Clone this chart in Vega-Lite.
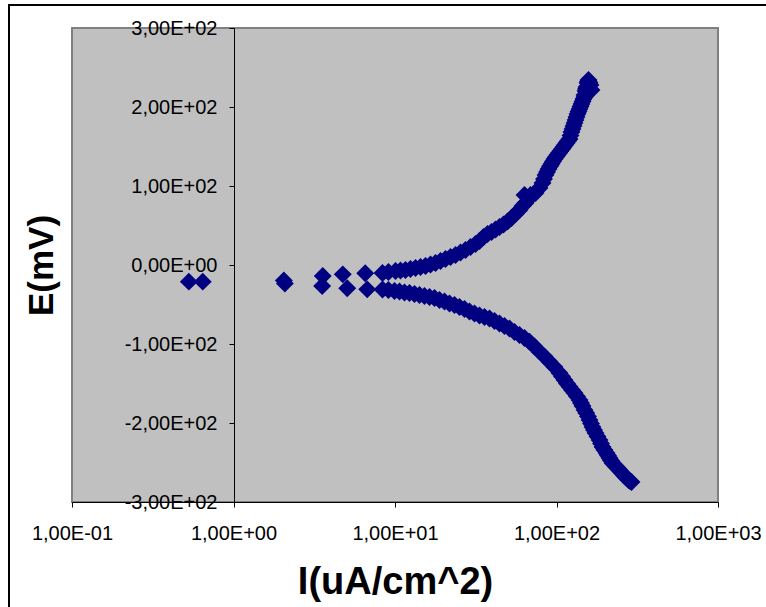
{
  "$schema": "https://vega.github.io/schema/vega-lite/v6.json",
  "autosize": {"type": "none"},
  "padding": {"left": 9, "top": 5, "right": 0, "bottom": 0},
  "width": 765,
  "height": 610,
  "background": "white",
  "config": {
    "view": {"stroke": "#000000", "strokeWidth": 2, "fill": "white"},
    "axis": {
      "grid": false,
      "domainColor": "#000000",
      "domainWidth": 1,
      "tickColor": "#000000",
      "tickWidth": 1,
      "tickSize": 5,
      "labelFont": "Liberation Sans",
      "labelFontSize": 20,
      "labelColor": "#000000",
      "labelOverlap": false,
      "labelFlush": false,
      "labelBound": false,
      "titleFont": "Liberation Sans",
      "titleFontWeight": "bold",
      "titleColor": "#000000"
    }
  },
  "datasets": {
    "plotarea": [{"I": 0.1, "I2": 1000, "E": -300, "E2": 300}],
    "pts": [
      {"I": 0.529, "E": -21.1}, {"I": 0.645, "E": -21.1},
      {"I": 2.05, "E": -19.6}, {"I": 2.08, "E": -23.4},
      {"I": 3.57, "E": -13.9}, {"I": 3.54, "E": -26.6},
      {"I": 4.75, "E": -11.8}, {"I": 5.06, "E": -29.5},
      {"I": 6.54, "E": -10.5}, {"I": 6.73, "E": -30.8},
      {"I": 8.37, "E": -10.1}, {"I": 9.11, "E": -8.9}, {"I": 10.07, "E": -7.6}, {"I": 10.82, "E": -7.0},
      {"I": 11.61, "E": -6.3}, {"I": 12.47, "E": -5.1}, {"I": 13.4, "E": -3.8}, {"I": 14.39, "E": -2.5},
      {"I": 15.45, "E": -1.3}, {"I": 16.59, "E": 0.6}, {"I": 17.82, "E": 2.5}, {"I": 19.13, "E": 5.1},
      {"I": 20.54, "E": 7.6}, {"I": 22.07, "E": 10.1}, {"I": 23.7, "E": 12.7}, {"I": 25.44, "E": 15.8},
      {"I": 27.32, "E": 19.0}, {"I": 29.35, "E": 22.8}, {"I": 31.51, "E": 26.6}, {"I": 33.37, "E": 30.4},
      {"I": 35.32, "E": 35.4}, {"I": 37.4, "E": 39.2}, {"I": 39.58, "E": 41.8}, {"I": 41.91, "E": 44.9},
      {"I": 44.37, "E": 48.1}, {"I": 46.97, "E": 51.3}, {"I": 49.73, "E": 55.1}, {"I": 52.65, "E": 59.5},
      {"I": 55.72, "E": 64.6}, {"I": 59.01, "E": 69.6}, {"I": 61.59, "E": 74.7}, {"I": 64.27, "E": 78.5},
      {"I": 67.09, "E": 83.5}, {"I": 63.38, "E": 88.6}, {"I": 69.02, "E": 88.6}, {"I": 74.13, "E": 91.1},
      {"I": 78.47, "E": 97.5}, {"I": 81.9, "E": 103.8}, {"I": 83.7, "E": 108.9}, {"I": 85.5, "E": 113.9},
      {"I": 87.4, "E": 117.7}, {"I": 89.23, "E": 121.5}, {"I": 91.2, "E": 124.9},
      {"I": 93.11, "E": 127.8}, {"I": 95.1, "E": 131.0}, {"I": 97.18, "E": 134.2}, {"I": 99.3, "E": 136.7},
      {"I": 101.4, "E": 139.2}, {"I": 103.6, "E": 141.8}, {"I": 105.9, "E": 144.3}, {"I": 108.2, "E": 146.8},
      {"I": 110.5, "E": 149.4}, {"I": 112.9, "E": 151.9}, {"I": 115.3, "E": 154.4}, {"I": 117.8, "E": 157.0},
      {"I": 120.4, "E": 159.5}, {"I": 122.1, "E": 163.9}, {"I": 123.8, "E": 168.4}, {"I": 125.6, "E": 172.1},
      {"I": 127.4, "E": 175.9}, {"I": 129.3, "E": 179.7}, {"I": 131.1, "E": 183.5}, {"I": 133.0, "E": 187.3},
      {"I": 134.9, "E": 191.1}, {"I": 136.9, "E": 194.3}, {"I": 138.8, "E": 197.5}, {"I": 140.8, "E": 200.6},
      {"I": 142.8, "E": 203.8}, {"I": 144.9, "E": 207.0}, {"I": 146.9, "E": 210.1}, {"I": 149.1, "E": 212.7},
      {"I": 149.1, "E": 215.2}, {"I": 151.2, "E": 220.3}, {"I": 152.3, "E": 222.8},
      {"I": 153.4, "E": 225.3}, {"I": 155.6, "E": 230.4}, {"I": 156.7, "E": 232.3}, {"I": 157.8, "E": 234.2},
      {"I": 160.1, "E": 231.0}, {"I": 162.3, "E": 227.8}, {"I": 164.7, "E": 221.5},
      {"I": 8.37, "E": -31.0}, {"I": 9.11, "E": -31.6}, {"I": 9.93, "E": -32.9}, {"I": 10.66, "E": -33.5},
      {"I": 11.45, "E": -34.8}, {"I": 12.3, "E": -35.4}, {"I": 13.21, "E": -36.7}, {"I": 14.18, "E": -38.0},
      {"I": 15.23, "E": -39.2}, {"I": 16.36, "E": -40.5}, {"I": 17.56, "E": -41.8}, {"I": 18.86, "E": -44.3},
      {"I": 20.25, "E": -46.2}, {"I": 21.75, "E": -48.7}, {"I": 23.36, "E": -50.6}, {"I": 25.08, "E": -53.2},
      {"I": 26.94, "E": -55.7}, {"I": 28.93, "E": -58.9}, {"I": 31.07, "E": -61.4}, {"I": 33.37, "E": -63.9},
      {"I": 35.84, "E": -65.8}, {"I": 38.48, "E": -67.7}, {"I": 41.32, "E": -70.9}, {"I": 44.37, "E": -74.1},
      {"I": 47.64, "E": -77.2}, {"I": 51.17, "E": -80.4}, {"I": 54.95, "E": -84.8}, {"I": 59.01, "E": -88.6},
      {"I": 63.38, "E": -92.4}, {"I": 68.06, "E": -97.1}, {"I": 73.09, "E": -103.2}, {"I": 78.47, "E": -109.7},
      {"I": 84.27, "E": -115.8}, {"I": 90.51, "E": -122.4}, {"I": 97.18, "E": -129.1}, {"I": 104.4, "E": -136.7},
      {"I": 108.2, "E": -141.1}, {"I": 112.1, "E": -145.6}, {"I": 116.1, "E": -150.0}, {"I": 120.4, "E": -154.0},
      {"I": 124.7, "E": -158.2}, {"I": 129.3, "E": -162.0}, {"I": 134.0, "E": -166.5}, {"I": 138.8, "E": -170.9},
      {"I": 141.8, "E": -174.7}, {"I": 144.9, "E": -178.5}, {"I": 149.1, "E": -183.5}, {"I": 152.8, "E": -187.3},
      {"I": 156.7, "E": -191.8}, {"I": 160.1, "E": -196.2}, {"I": 163.5, "E": -200.6}, {"I": 167.1, "E": -205.1},
      {"I": 170.7, "E": -208.9}, {"I": 174.4, "E": -212.7}, {"I": 179.4, "E": -217.1}, {"I": 184.6, "E": -221.5},
      {"I": 188.6, "E": -225.9}, {"I": 192.8, "E": -230.4}, {"I": 198.2, "E": -234.2}, {"I": 204.0, "E": -238.0},
      {"I": 208.4, "E": -241.1}, {"I": 212.9, "E": -244.3}, {"I": 217.5, "E": -247.5}, {"I": 222.2, "E": -250.6},
      {"I": 228.6, "E": -253.2}, {"I": 235.3, "E": -255.7}, {"I": 242.0, "E": -258.2}, {"I": 249.1, "E": -261.4},
      {"I": 256.3, "E": -263.9}, {"I": 263.8, "E": -267.1}, {"I": 271.3, "E": -269.6}, {"I": 279.2, "E": -272.1},
      {"I": 285.2, "E": -273.4}, {"I": 291.3, "E": -274.7}
    ]
  },
  "encoding": {
    "x": {
      "field": "I",
      "type": "quantitative",
      "scale": {"type": "log", "domain": [0.1, 1000], "range": [63, 709], "nice": false},
      "axis": {
        "title": "I(uA/cm^2)",
        "orient": "bottom",
        "offset": -113,
        "zindex": 2,
        "values": [0.1, 1, 10, 100, 1000],
        "labelExpr": "'1,00E' + (datum.value < 0.5 ? '-01' : '+0' + format(log(datum.value) / LN10, '.0f'))",
        "labelPadding": 16,
        "titleFontSize": 38,
        "titleBaseline": "alphabetic",
        "titleY": 91
      }
    },
    "y": {
      "field": "E",
      "type": "quantitative",
      "scale": {"domain": [-300, 300], "range": [497, 23], "nice": false, "zero": false},
      "axis": {
        "title": "E(mV)",
        "orient": "left",
        "offset": -225,
        "zindex": 2,
        "values": [-300, -200, -100, 0, 100, 200, 300],
        "labelExpr": "(datum.value < 0 ? '-' : '') + replace(format(abs(datum.value) / 100, '.2f'), '.', ',') + (datum.value == 0 ? 'E+00' : 'E+02')",
        "labelPadding": 12,
        "labelBaseline": "middle",
        "titleFontSize": 35,
        "titleAngle": -90,
        "titleBaseline": "alphabetic",
        "titleX": -182,
        "titleY": 260
      }
    }
  },
  "layer": [
    {
      "data": {"name": "plotarea"},
      "mark": {"type": "rect", "fill": "#C0C0C0", "stroke": "#808080", "strokeWidth": 2},
      "encoding": {
        "x2": {"field": "I2"},
        "y2": {"field": "E2"}
      }
    },
    {
      "data": {"name": "pts"},
      "mark": {"type": "point", "shape": "diamond", "filled": true, "size": 320, "color": "#000080", "opacity": 1, "strokeWidth": 0}
    }
  ]
}
